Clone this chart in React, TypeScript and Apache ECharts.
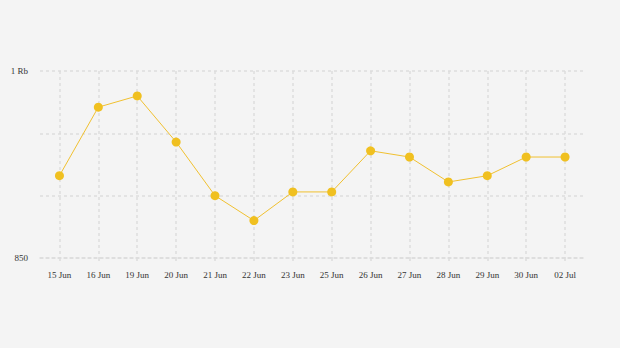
import React, { useEffect, useRef } from "react";
import * as echarts from "echarts";

const categories = ["15 Jun", "16 Jun", "19 Jun", "20 Jun", "21 Jun", "22 Jun", "23 Jun", "25 Jun", "26 Jun", "27 Jun", "28 Jun", "29 Jun", "30 Jun", "02 Jul"];
const values = [916, 971, 980, 943, 900, 880, 903, 903, 936, 931, 911, 916, 931, 931];
const yMin = 850;
const yMax = 1000;
const yInterval = 50;

export default function App() {
  const ref = useRef<HTMLDivElement>(null);
  useEffect(() => {
    if (!ref.current) return;
    const chart = echarts.init(ref.current, null, { renderer: "svg" });
    const dash = { color: "#dddddd", type: [3, 3], width: 1.5 };
    chart.setOption({
      animation: false,
      backgroundColor: "#f4f4f4",
      grid: { left: 40, right: 35.5, top: 71, bottom: 90 },
      xAxis: {
        type: "category",
        data: categories,
        boundaryGap: true,
        axisLine: { show: true, lineStyle: dash },
        axisTick: { show: true, alignWithLabel: true, length: 3, lineStyle: { color: "#dddddd", width: 1.5 } },
        axisLabel: { color: "#333", fontFamily: "Liberation Serif", fontSize: 9, margin: 12, interval: 0 },
        splitLine: { show: true, alignWithLabel: true, lineStyle: dash },
      },
      yAxis: {
        type: "value",
        min: yMin,
        max: yMax,
        interval: yInterval,
        axisLine: { show: false },
        axisTick: { show: false },
        axisLabel: {
          color: "#333",
          fontFamily: "Liberation Serif",
          fontSize: 9,
          margin: 12,
          formatter: (v: number) => (v === yMax ? "1 Rb" : v === yMin ? String(v) : ""),
        },
        splitLine: { show: true, lineStyle: dash },
      },
      series: [
        {
          type: "line",
          data: values,
          symbol: "circle",
          symbolSize: 9,
          itemStyle: { color: "#f0c020" },
          lineStyle: { color: "#f0c030", width: 1 },
        },
      ],
    });
    return () => chart.dispose();
  }, []);
  return <div ref={ref} style={{ width: 620, height: 348, position: "absolute", left: 0, top: 0 }} />;
}
